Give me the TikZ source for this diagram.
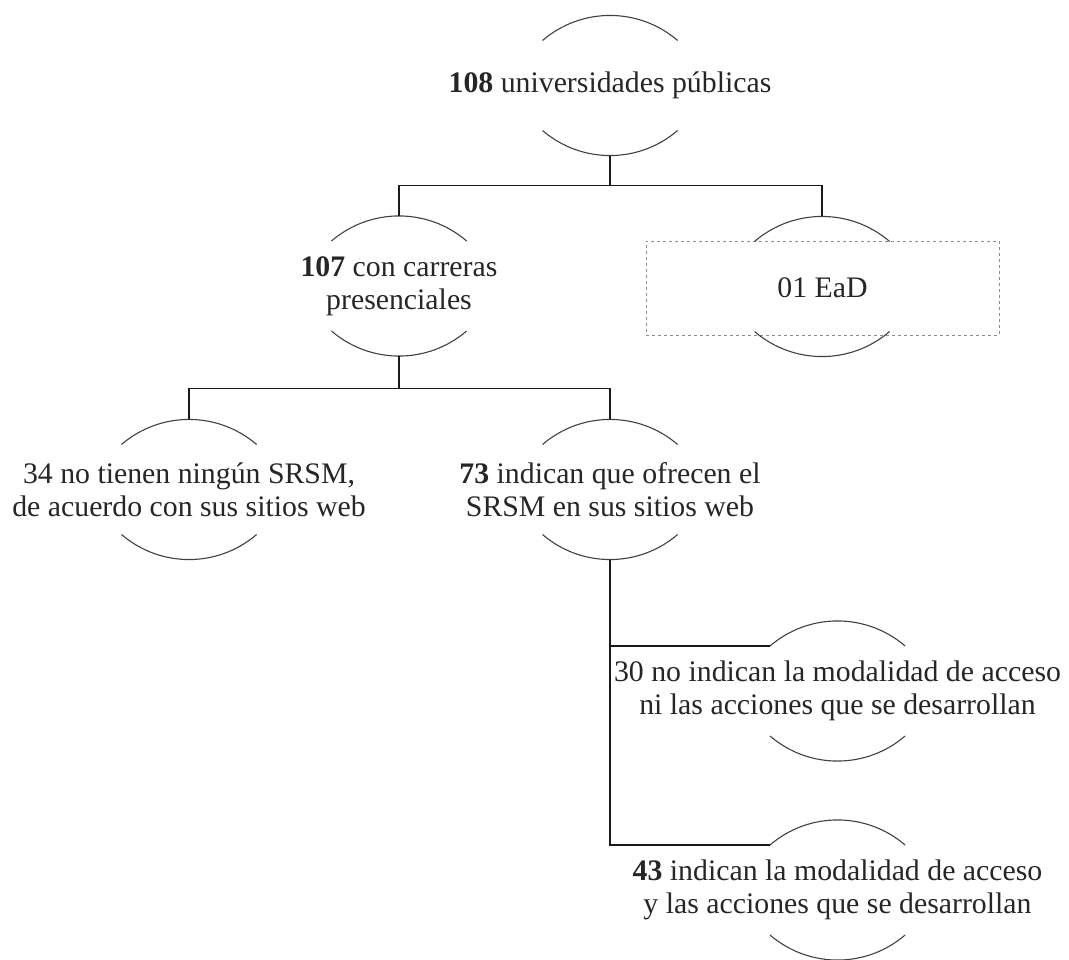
\documentclass[tikz,border=0pt]{standalone}
\usepackage{fontspec}
\setmainfont{Liberation Serif}
\begin{document}
\begin{tikzpicture}[x=1pt,y=1pt,
  arcnode/.style={rectangle, inner sep=0pt, minimum height=140.2pt, minimum width=135pt, align=center,
    font=\fontsize{29.8pt}{33pt}\selectfont, text=black!85},
  dashbox/.style={draw=black!45, dashed, line width=0.9pt, minimum width=353pt, minimum height=94pt,
    inner sep=0pt, font=\fontsize{29.8pt}{33pt}\selectfont, text=black!85},
  arcline/.style={draw=black!75, line width=1.1pt},
  conn/.style={draw=black!90, line width=1.3pt}]
\useasboundingbox (0,0) rectangle (1069,-960);

\node[arcnode] (n108) at (610,-85.5) {\textbf{108} universidades públicas};
\node[arcnode] (n107) at (399,-286) {\textbf{107} con carreras\\presenciales};
\node[arcnode] (ead) at (822,-286.5) {};
\node[dashbox] (eadbox) at (822.5,-288) {01 EaD};
\node[arcnode] (n34) at (189,-489.5) {34 no tienen ningún SRSM,\\de acuerdo con sus sitios web};
\node[arcnode] (n73) at (610,-489.5) {\textbf{73} indican que ofrecen el\\SRSM en sus sitios web};
\node[arcnode] (n30) at (837.5,-691) {30 no indican la modalidad de acceso\\ni las acciones que se desarrollan};
\node[arcnode] (n43) at (837.5,-890) {\textbf{43} indican la modalidad de acceso\\y las acciones que se desarrollan};

\foreach \n in {n108,n107,ead,n34,n73,n30,n43} {
  \draw[arcline] ([shift={(-67.5pt,45pt)}]\n.center) arc[start angle=130.7,end angle=49.3,radius=103.6pt];
  \draw[arcline] ([shift={(-67.5pt,-45pt)}]\n.center) arc[start angle=229.3,end angle=310.7,radius=103.6pt];
}

\coordinate (c30) at ([shift={(-67.5pt,45pt)}]n30.center);
\coordinate (c43) at ([shift={(-67.5pt,45pt)}]n43.center);

\draw[conn] (n108.south) -- ++(0,-30) -| (n107.north);
\draw[conn] (n108.south) -- ++(0,-30) -| (ead.north);
\draw[conn] (n107.south) -- ++(0,-32) -| (n34.north);
\draw[conn] (n107.south) -- ++(0,-32) -| (n73.north);
\draw[conn] (n73.south) |- (c30);
\draw[conn] (n73.south) |- (c43);
\end{tikzpicture}
\end{document}
